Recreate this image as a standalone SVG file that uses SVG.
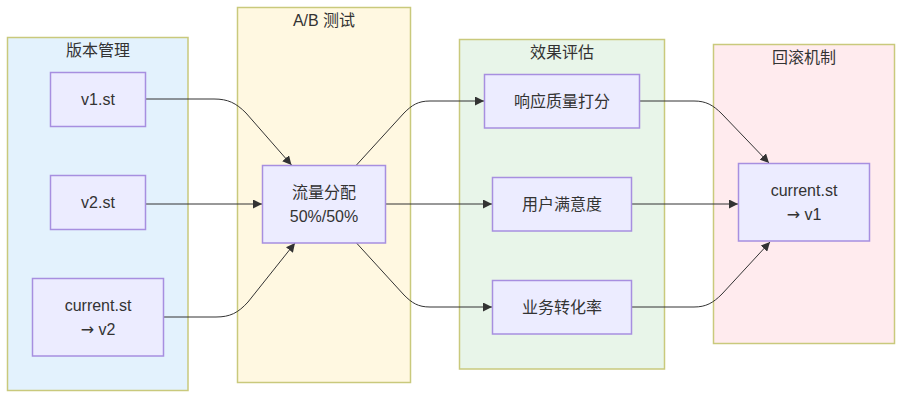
<svg xmlns="http://www.w3.org/2000/svg" width="910" height="402" viewBox="0 0 910 402">
<style>
.cl{stroke:#c9c97c;stroke-width:1.5}
.nd{fill:#ececff;stroke:#a78fe0;stroke-width:1.5}
text{font-family:"Liberation Sans","Noto Sans CJK SC",sans-serif;font-size:16px;fill:#333;text-anchor:middle;dominant-baseline:central}
.arw{font-family:"DejaVu Sans",sans-serif}
.ed{fill:none;stroke:#333;stroke-width:1}
</style>
<defs>
<marker id="ar" viewBox="0 0 10 10" refX="10" refY="5" markerWidth="9" markerHeight="9" markerUnits="userSpaceOnUse" orient="auto">
<path d="M0,0 L10,5 L0,10 z" fill="#333"/>
</marker>
</defs>
<g id="cluster-version">
<rect class="cl" x="7.5" y="37.5" width="180.5" height="353" fill="#e3f2fd"/>
<text x="98" y="50">版本管理</text>
</g>
<g id="cluster-ab">
<rect class="cl" x="237.5" y="7.5" width="173" height="375" fill="#fff8e1"/>
<text x="324" y="20">A/B 测试</text>
</g>
<g id="cluster-eval">
<rect class="cl" x="459.5" y="39.5" width="205" height="329.5" fill="#e8f5e9"/>
<text x="562" y="52">效果评估</text>
</g>
<g id="cluster-rollback">
<rect class="cl" x="713.5" y="44.5" width="181" height="299" fill="#ffebee"/>
<text x="804" y="57">回滚机制</text>
</g>
<g id="edges">
<path class="ed" d="M145.5,99 L214,99 C228,99 236,103 246,113 L291.5,165" marker-end="url(#ar)"/>
<path class="ed" d="M145.5,204 L262,204" marker-end="url(#ar)"/>
<path class="ed" d="M163.5,317 L216,317 C230,317 238,313 248,302 L295,243" marker-end="url(#ar)"/>
<path class="ed" d="M356.5,165 L404,113 C412,105 418,101 430,101 L484,101" marker-end="url(#ar)"/>
<path class="ed" d="M385.5,204 L492,204" marker-end="url(#ar)"/>
<path class="ed" d="M356.5,243 L404,295 C412,303 418,307 430,307 L492,307" marker-end="url(#ar)"/>
<path class="ed" d="M640,101 L694,101 C706,101 713,105 722,114 L769,163" marker-end="url(#ar)"/>
<path class="ed" d="M631.5,204 L738,204" marker-end="url(#ar)"/>
<path class="ed" d="M631.5,307 L694,307 C706,307 713,303 722,294 L770,242" marker-end="url(#ar)"/>
</g>
<g id="node-v1">
<rect class="nd" x="50.5" y="72.5" width="95" height="54"/>
<text x="98" y="99.5">v1.st</text>
</g>
<g id="node-v2">
<rect class="nd" x="50.5" y="175.5" width="95" height="54"/>
<text x="98" y="202.5">v2.st</text>
</g>
<g id="node-current">
<rect class="nd" x="32.5" y="278.5" width="131" height="77.5"/>
<text x="98" y="305">current.st</text>
<text x="98" y="329"><tspan class="arw">→</tspan> v2</text>
</g>
<g id="node-split">
<rect class="nd" x="262.5" y="165.5" width="123" height="77.5"/>
<text x="324" y="192">流量分配</text>
<text x="324" y="216">50%/50%</text>
</g>
<g id="node-quality">
<rect class="nd" x="484.5" y="74.5" width="155" height="53.5"/>
<text x="562" y="101">响应质量打分</text>
</g>
<g id="node-satisfaction">
<rect class="nd" x="492.5" y="177.5" width="139" height="53.5"/>
<text x="562" y="204">用户满意度</text>
</g>
<g id="node-conversion">
<rect class="nd" x="492.5" y="280.5" width="139" height="53.5"/>
<text x="562" y="307">业务转化率</text>
</g>
<g id="node-rollback">
<rect class="nd" x="738.5" y="163.5" width="131" height="77.5"/>
<text x="804" y="190">current.st</text>
<text x="804" y="214"><tspan class="arw">→</tspan> v1</text>
</g>
</svg>
